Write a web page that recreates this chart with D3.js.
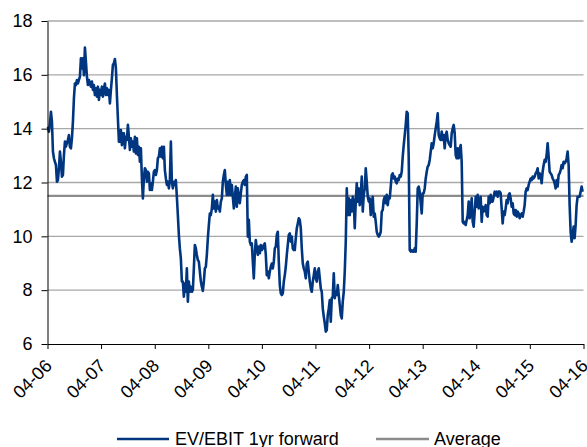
<!DOCTYPE html>
<html><head><meta charset="utf-8">
<script src="https://cdn.jsdelivr.net/npm/d3@7"></script>
<style>body{margin:0;background:#fff}svg{display:block}text{font-family:"Liberation Sans",Arial,Helvetica,sans-serif;fill:#000}</style>
</head><body><svg id="c" width="587" height="447"></svg>
<script>
const seriesName = "EV/EBIT 1yr forward";
const averageName = "Average";
const averageValue = 11.5;
const startDate = "2006-04-04";
const endDate = "2016-03-26";
const tickDates = ["2006-04-01","2007-04-01","2008-04-01","2009-04-01","2010-04-01","2011-04-01","2012-04-01","2013-04-01","2014-04-01","2015-04-01","2016-04-01"];
const tickLabels = ["04-06","04-07","04-08","04-09","04-10","04-11","04-12","04-13","04-14","04-15","04-16"];
const yTicks = [6, 8, 10, 12, 14, 16, 18];
const values = [
14.07,13.89,14.20,14.63,14.26,13.15,12.90,12.77,12.65,12.03,12.09,12.53,13.15,12.77,12.22,12.28,13.02,13.52,13.33,13.46,13.58,13.76,13.33,13.27,13.64,14.26,15.13,15.68,15.62,15.81,15.68,15.81,
15.93,16.61,16.24,16.61,15.99,17.01,16.49,15.93,15.62,15.81,
15.68,15.56,15.75,15.44,15.62,15.25,15.50,15.19,15.56,15.07,
15.44,15.25,15.56,15.19,15.50,15.68,15.25,15.50,15.25,15.44,
14.94,15.44,15.87,16.37,16.43,16.59,16.24,15.25,14.38,13.52,
13.52,13.95,13.39,13.83,13.83,13.27,13.70,13.58,14.14,13.70,
13.21,13.64,13.33,13.52,13.15,13.70,13.08,13.64,13.02,13.33,
12.77,13.27,12.15,11.41,12.15,12.53,12.46,12.03,12.40,12.34,
11.72,11.97,11.72,12.03,12.40,12.46,12.28,12.46,12.90,12.96,
13.27,12.96,13.33,12.90,13.33,12.46,12.15,11.91,12.03,11.78,
12.09,13.52,12.03,11.78,12.03,11.91,12.09,11.47,10.79,10.05,
9.55,9.18,8.32,
8.32,7.76,8.25,7.94,8.81,7.57,8.32,7.94,8.13,7.94,
8.01,8.81,9.68,9.55,9.31,9.12,9.06,8.69,8.32,8.13,
7.97,8.32,8.81,8.87,9.31,9.93,10.42,10.85,10.79,11.04,
11.54,11.04,11.29,10.92,11.35,11.04,11.10,10.92,11.29,11.41,
12.03,12.28,12.46,11.91,11.54,12.03,11.54,12.09,11.54,11.91,
11.47,11.04,11.47,11.85,11.10,11.78,11.47,11.23,11.60,11.91,
12.03,12.09,11.91,12.22,12.28,9.99,10.61,9.80,9.68,9.74,
9.06,8.44,9.37,9.86,9.55,9.31,9.62,9.37,9.68,9.49,
9.55,9.68,9.74,9.31,8.56,8.69,8.44,8.69,8.87,8.99,
8.81,9.06,9.55,9.62,10.05,10.17,9.06,8.19,7.88,7.82,
7.88,8.32,8.56,8.87,9.31,9.68,10.05,10.11,9.80,9.99,
9.55,9.49,9.49,9.93,10.30,10.48,10.67,10.61,10.30,9.55,
8.99,8.81,8.69,8.44,8.99,9.06,8.69,8.32,8.07,7.94,
8.32,8.56,8.81,
8.44,8.32,8.69,8.81,8.44,8.07,7.94,7.32,7.02,6.77,
6.46,6.52,7.08,7.32,7.63,6.83,7.70,7.76,8.63,7.70,
7.94,7.82,8.19,7.82,7.45,7.08,6.95,7.57,7.94,8.69,
9.80,11.78,10.79,11.41,10.79,11.35,10.92,11.47,11.29,10.30,
11.29,11.97,11.29,11.78,11.16,11.54,12.22,10.92,11.54,11.78,
12.53,12.03,11.47,11.29,11.41,10.79,11.23,11.47,10.73,10.85,
10.54,10.17,10.05,9.99,10.05,10.17,10.92,10.98,11.35,11.47,
11.23,11.54,11.16,11.47,11.41,11.85,12.28,12.34,12.15,12.22,
12.03,11.97,12.15,12.09,12.28,12.22,12.40,12.96,13.39,13.76,
14.14,14.63,14.57,12.90,9.49,9.43,9.49,9.43,9.43,9.55,
9.43,10.48,11.78,11.85,11.66,11.23,10.85,11.60,11.60,11.78,
12.15,12.40,12.59,12.65,12.84,13.15,13.46,13.27,13.46,13.76,
14.01,14.26,14.57,13.76,13.64,13.58,13.89,13.58,13.76,13.27,
13.76,13.89,13.58,13.46,
13.39,13.33,13.83,14.01,14.14,13.83,13.02,12.90,13.27,12.90,
13.21,13.39,12.77,10.54,10.48,10.54,10.42,10.61,10.79,11.29,
10.67,10.92,11.41,10.54,10.36,10.92,11.47,11.10,11.54,11.04,
11.29,11.47,10.54,11.10,10.92,11.04,11.16,10.79,10.73,11.47,
11.23,11.54,11.29,11.29,11.47,11.66,11.54,11.66,11.47,11.66,
11.66,11.60,11.04,10.48,10.92,10.79,11.04,11.35,11.23,11.54,
11.60,11.41,11.10,11.23,10.85,10.79,10.98,10.73,10.92,10.85,
10.67,10.79,10.85,10.73,10.92,11.16,11.66,11.78,11.72,11.91,
12.03,12.15,12.09,12.22,12.15,12.22,12.34,12.40,12.53,12.15,
12.34,12.28,11.97,12.40,12.65,12.84,12.77,13.02,13.46,12.96,
12.40,12.34,12.28,12.15,12.09,11.97,11.78,12.09,11.85,12.28,
12.34,12.46,12.65,12.53,12.77,12.71,12.77,12.90,13.15,12.65,
11.16,10.17,9.80,10.05,10.36,9.93,10.42,11.16,11.47,11.47,
11.47,11.66,11.85,11.66
];

const parse = d3.utcParse("%Y-%m-%d");
const t0 = parse(startDate).getTime(), t1 = parse(endDate).getTime();
const dates = values.map((v, i) => new Date(t0 + i * (t1 - t0) / (values.length - 1)));
const data = values.map((v, i) => ({date: dates[i], value: v}));
const ticks = tickDates.map(parse);

const svg = d3.select("#c");
const plotLeft = 47.5, plotRight = 583.5, plotTop = 21, plotBottom = 344;
const x = d3.scaleUtc().domain([ticks[0], ticks[ticks.length - 1]]).range([plotLeft, plotRight]);
const y = d3.scaleLinear().domain([6, 18]).range([plotBottom, plotTop]);

// gridlines
svg.append("g").selectAll("line").data(yTicks.filter(d => d > 6)).join("line")
  .attr("x1", plotLeft).attr("x2", plotRight)
  .attr("y1", d => y(d)).attr("y2", d => y(d))
  .attr("stroke", "#a8a8a8").attr("stroke-width", 1.3);

// average
svg.append("line").attr("x1", plotLeft).attr("x2", plotRight)
  .attr("y1", y(averageValue)).attr("y2", y(averageValue))
  .attr("stroke", "#8c8c8c").attr("stroke-width", 2.2);

// series
svg.append("path").datum(data)
  .attr("fill", "none").attr("stroke", "#003580").attr("stroke-width", 2.6)
  .attr("stroke-linejoin", "round")
  .attr("d", d3.line().x(d => x(d.date)).y(d => y(d.value)));

// axes
const yAxis = svg.append("g").attr("transform", `translate(${plotLeft},0)`)
  .call(d3.axisLeft(y).tickValues(yTicks).tickSizeInner(6).tickSizeOuter(0).tickPadding(9).tickFormat(d3.format("d")));
yAxis.selectAll("text").style("font-size", "18px").attr("fill", "#000");
yAxis.selectAll("line,path").attr("stroke", "#000");

const xAxis = svg.append("g").attr("transform", `translate(0,${plotBottom})`)
  .call(d3.axisBottom(x).tickValues(ticks).tickSizeInner(5).tickSizeOuter(0).tickFormat((d, i) => tickLabels[i]));
xAxis.selectAll("line,path").attr("stroke", "#000");
xAxis.selectAll("text").style("font-size", "18px").attr("fill", "#000")
  .attr("x", 0).attr("y", 0).attr("dy", 0)
  .attr("transform", "translate(5,23) rotate(-45)")
  .style("text-anchor", "end");

// legend
const lg = svg.append("g");
lg.append("line").attr("x1", 117).attr("x2", 169).attr("y1", 439).attr("y2", 439).attr("stroke", "#003580").attr("stroke-width", 2.6);
lg.append("text").attr("x", 175).attr("y", 445).style("font-size", "18px").text(seriesName);
lg.append("line").attr("x1", 376).attr("x2", 429).attr("y1", 439).attr("y2", 439).attr("stroke", "#8c8c8c").attr("stroke-width", 2.6);
lg.append("text").attr("x", 434).attr("y", 445).style("font-size", "18px").text(averageName);
</script></body></html>
